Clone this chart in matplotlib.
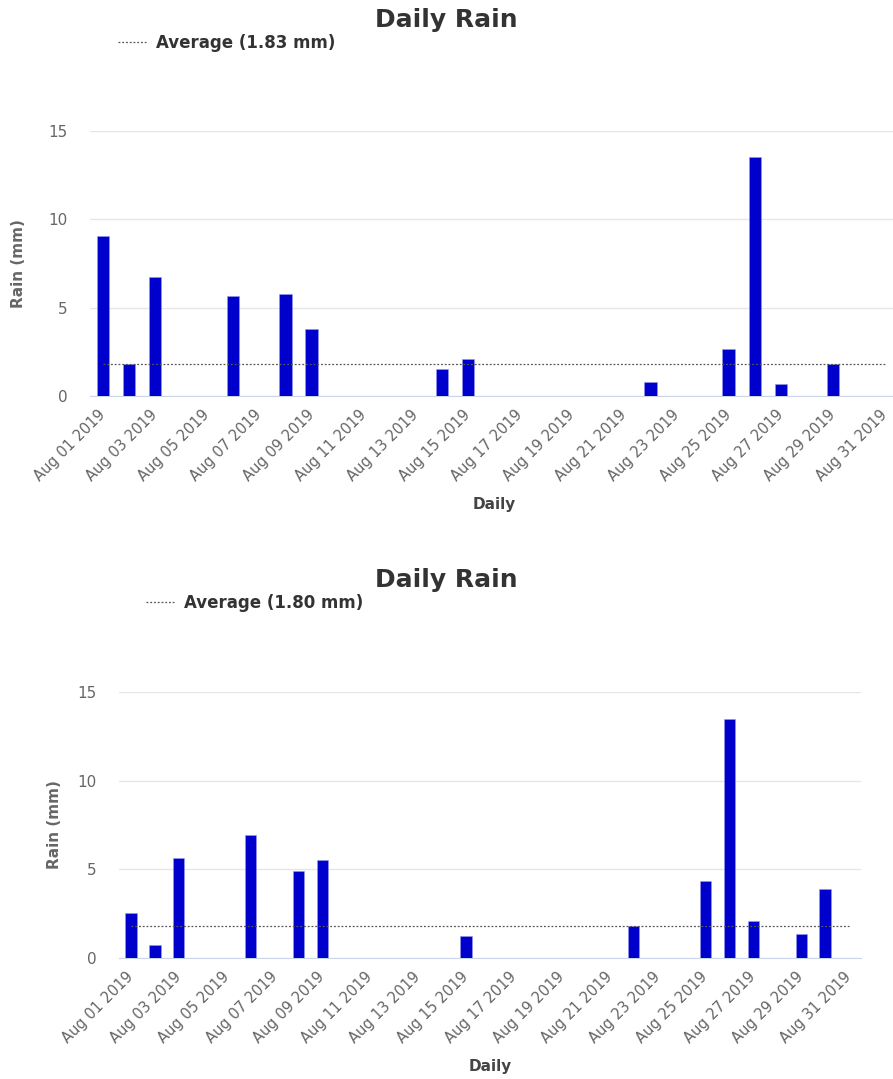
import matplotlib.pyplot as plt

# August 2019, one slot per day
dates = [f"Aug {d:02d} 2019" for d in range(1, 32)]

# top chart
rain_days_top = [1, 2, 3, 6, 8, 9, 14, 15, 22, 25, 26, 27, 29]
rain_top = [9.05, 1.8, 6.72, 5.68, 5.75, 3.81, 1.5, 2.08, 0.81, 2.64, 13.5, 0.68, 1.83]
avg_top = 1.83

# bottom chart
rain_days_bot = [1, 2, 3, 6, 8, 9, 15, 22, 25, 26, 27, 29, 30]
rain_bot = [2.55, 0.75, 5.66, 6.95, 4.92, 5.55, 1.24, 1.79, 4.34, 13.48, 2.07, 1.37, 3.87]
avg_bot = 1.80

yticks = [0, 5, 10, 15]
GREY = '#666666'
BAR = '#0000cc'
W, H = 893, 1079


def rain_chart(fig, box, days, values, avg, title_y, legend_xy, ylabel_x):
	# box in pixels: left, top, right, bottom
	l, t, r, b = box
	ax = fig.add_axes([l / W, 1 - b / H, (r - l) / W, (b - t) / H])
	x = [d - 1 for d in days]
	ax.bar(x, values, 0.47, color=BAR, edgecolor='#9999ee', linewidth=0.4, zorder=3)
	ax.plot(range(len(dates)), [avg] * len(dates), linestyle=(0, (1.5, 1.5)), color='#555555',
			linewidth=0.9, zorder=4, label=f'Average ({avg:.2f} mm)')

	ax.set_xlim(-0.5, len(dates) - 0.5)
	ax.set_ylim(0, 15)
	ax.set_yticks(yticks)
	ax.set_xticks(range(0, len(dates), 2))
	ax.set_xticklabels(dates[::2], rotation=45, ha='right', va='center', rotation_mode='anchor')
	ax.tick_params(axis='x', length=0, pad=12, labelsize=10.5, labelcolor=GREY)
	ax.tick_params(axis='y', length=0, pad=16, labelsize=11, labelcolor=GREY)
	ax.grid(axis='y', color='#e6e6e6', linewidth=1, zorder=0)
	for s in ['top', 'right', 'left']:
		ax.spines[s].set_visible(False)
	ax.spines['bottom'].set_color('#ccd6eb')
	ax.set_ylabel('Rain (mm)', fontsize=11, fontweight='bold', color=GREY)
	# x coord here is the right side of the rotated label
	ax.yaxis.set_label_coords((ylabel_x - l) / (r - l), 0.5)
	ax.set_xlabel('Daily', fontsize=11, fontweight='bold', color='#444444', labelpad=9)

	fig.text(0.5, title_y, 'Daily Rain', ha='center', va='center', fontsize=18, fontweight='bold', color='#333333')
	ax.legend(loc='center left', bbox_to_anchor=legend_xy, bbox_transform=fig.transFigure, frameon=False,
			  handlelength=1.7, handletextpad=0.6, borderpad=0, borderaxespad=0,
			  prop={'size': 12, 'weight': 'bold'}, labelcolor='#333333')
	return ax


fig = plt.figure(figsize=(W / 100, H / 100), dpi=100)
rain_chart(fig, (90, 131, 898, 396), rain_days_top, rain_top, avg_top,
		   1 - 20 / H, (118 / W, 1 - 43 / H), 26)
rain_chart(fig, (119, 692, 861, 958), rain_days_bot, rain_bot, avg_bot,
		   1 - 580 / H, (146 / W, 1 - 603 / H), 62)
fig.savefig('out.png', dpi=100)
